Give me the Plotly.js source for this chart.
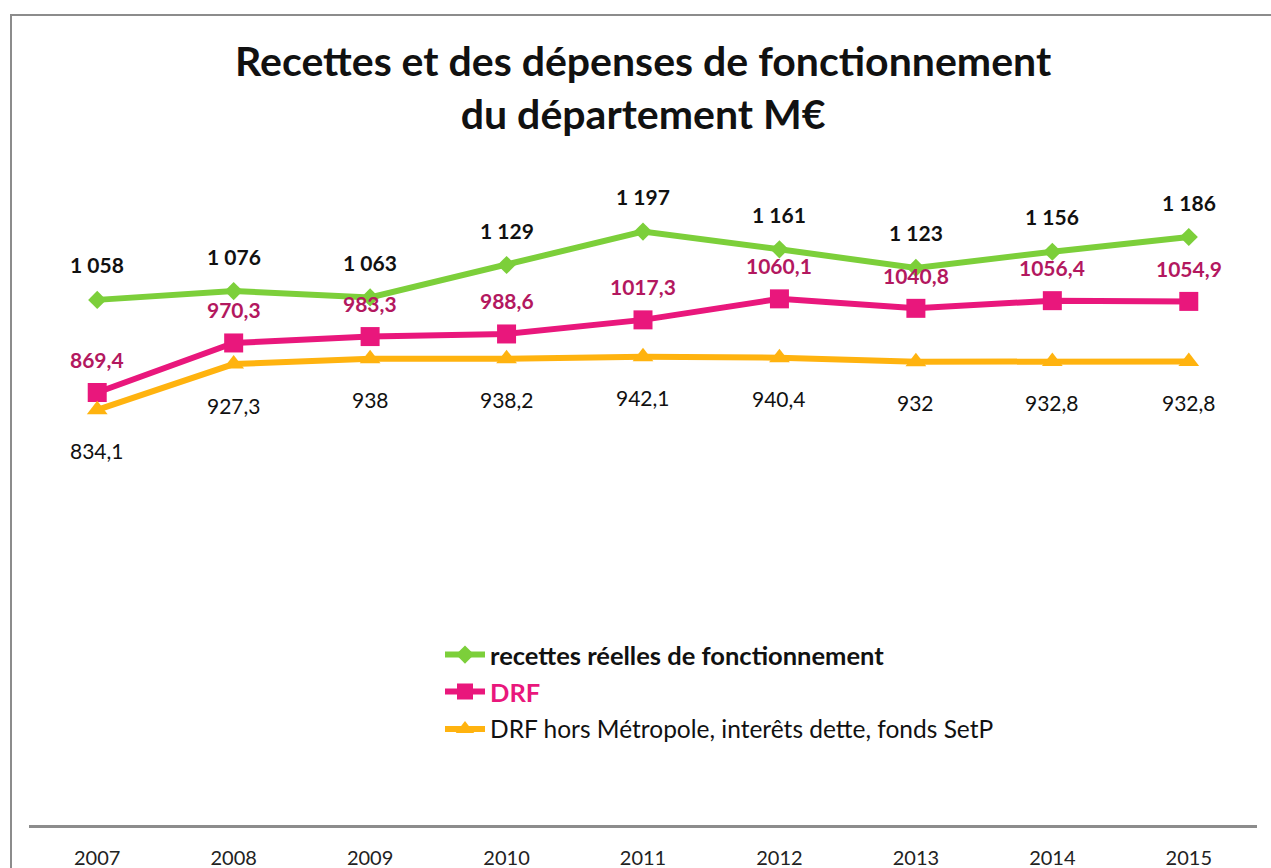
<!DOCTYPE html>
<html>
<head>
<meta charset="utf-8">
<script src="https://cdn.plot.ly/plotly-3.0.1.min.js"></script>
<style>
html,body{margin:0;padding:0;background:#fff;overflow:hidden;}
#frame{position:absolute;left:10px;top:14px;width:1400px;height:1000px;border:2px solid #8c8c8c;box-sizing:border-box;pointer-events:none;z-index:2;}
#chart{position:absolute;left:0;top:0;width:1271px;height:868px;}
</style>
</head>
<body>
<div id="chart"></div>
<div id="frame"></div>
<script>
const years = ['2007','2008','2009','2010','2011','2012','2013','2014','2015'];
const recettes = [1058,1076,1063,1129,1197,1161,1123,1156,1186];
const drf = [869.4,970.3,983.3,988.6,1017.3,1060.1,1040.8,1056.4,1054.9];
const drfHors = [834.1,927.3,938,938.2,942.1,940.4,932,932.8,932.8];
const seriesNames = ['recettes réelles de fonctionnement','DRF','DRF hors Métropole, interêts dette, fonds SetP'];
const titleText = 'Recettes et des dépenses de fonctionnement<br>du département M€';

const GREEN = '#7ccf3a', PINK = '#e9177c', YELLOW = '#ffb30f', PINKLBL = '#b3185f';
const W = 1271, H = 868;
const ML = 29, MR = 14, MT = 125, MB = 43;
const PW = W - ML - MR, PH = H - MT - MB;
const FONT = 'Lato, "Open Sans", sans-serif';

const fmtSpace = v => String(v).replace(/\B(?=(\d{3})+(?!\d))/g, ' ');
const fmtComma = v => String(v).replace('.', ',');

const traces = [
  {x: years, y: recettes, name: '<b>' + seriesNames[0] + '</b>', type: 'scatter', mode: 'lines+markers',
   line: {color: GREEN, width: 6}, marker: {symbol: 'diamond', size: 14, color: GREEN}, legend: 'legend'},
  {x: years, y: drf, name: '<b><span style="color:' + PINK + '">' + seriesNames[1] + '</span></b>', type: 'scatter', mode: 'lines+markers',
   line: {color: PINK, width: 6}, marker: {symbol: 'square', size: 19, color: PINK}, legend: 'legend2'},
  {x: years, y: drfHors, name: seriesNames[2], type: 'scatter', mode: 'lines+markers',
   line: {color: YELLOW, width: 6}, marker: {symbol: 'triangle-up', size: 18, color: YELLOW}, legend: 'legend3'}
];

const annotations = [];
years.forEach((yr, i) => {
  annotations.push({x: i, y: recettes[i], xref: 'x', yref: 'y', text: '<b>' + fmtSpace(recettes[i]) + '</b>',
    showarrow: false, yshift: 35, font: {family: FONT, size: 21, color: '#111'}});
  annotations.push({x: i, y: drf[i], xref: 'x', yref: 'y', text: '<b>' + fmtComma(drf[i]) + '</b>',
    showarrow: false, yshift: 33, font: {family: FONT, size: 21, color: PINKLBL}});
  annotations.push({x: i, y: drfHors[i], xref: 'x', yref: 'y', text: fmtComma(drfHors[i]),
    showarrow: false, yshift: -41, font: {family: FONT, size: 21, color: '#111'}});
});

const legBase = {xref: 'paper', yref: 'paper', xanchor: 'left', yanchor: 'middle',
  bgcolor: 'rgba(0,0,0,0)', font: {family: FONT, size: 25.5, color: '#111'}, itemwidth: 40};
const lx = (440 - ML) / PW;
const ly = py => (H - MB - py) / PH;

const layout = {
  width: W, height: H,
  paper_bgcolor: '#fff', plot_bgcolor: '#fff',
  margin: {l: ML, r: MR, t: MT, b: MB},
  title: {text: titleText, x: 0.506, xanchor: 'center', y: 1 - 76 / H, yanchor: 'middle',
    font: {family: FONT, size: 41, color: '#111', weight: 'bold'}},
  xaxis: {type: 'category', range: [-0.5, 8.5], showgrid: false, zeroline: false,
    showline: true, linecolor: '#8c8c8c', linewidth: 2.5,
    ticks: 'outside', ticklen: 13, tickcolor: 'rgba(0,0,0,0)',
    tickfont: {family: FONT, size: 20, color: '#222'}, fixedrange: true},
  yaxis: {range: [-11, 1414], visible: false, showgrid: false, zeroline: false, fixedrange: true},
  showlegend: true,
  legend: Object.assign({}, legBase, {x: lx, y: ly(655)}),
  legend2: Object.assign({}, legBase, {x: lx, y: ly(692)}),
  legend3: Object.assign({}, legBase, {x: lx, y: ly(729), font: {family: FONT, size: 24.5, color: '#111'}}),
  annotations: annotations
};

Plotly.newPlot('chart', traces, layout, {displayModeBar: false, staticPlot: true});
</script>
</body>
</html>
